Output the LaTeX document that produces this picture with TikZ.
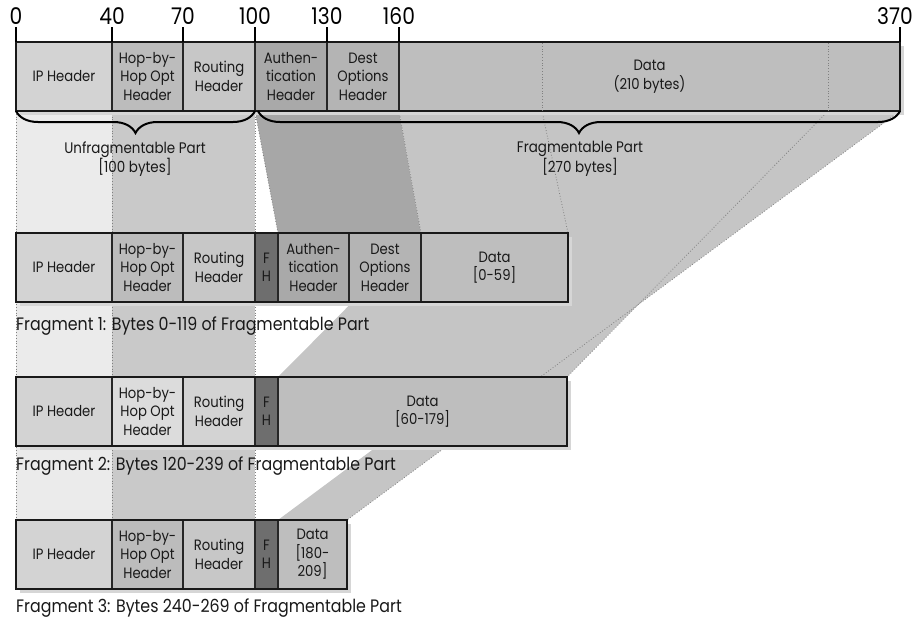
\documentclass[tikz,border=0pt]{standalone}
\usepackage{fontspec}
\setmainfont{Poppins}[FakeStretch=0.88]
\usetikzlibrary{positioning,backgrounds,decorations.pathreplacing}
\definecolor{ipgrey}{HTML}{D3D3D3}
\definecolor{hopgrey}{HTML}{BCBCBC}
\definecolor{rtgrey}{HTML}{C7C7C7}
\definecolor{authgrey}{HTML}{A9A9A9}
\definecolor{destgrey}{HTML}{B4B4B4}
\definecolor{datagrey}{HTML}{BEBEBE}
\definecolor{fhgrey}{HTML}{6E6E6E}
\definecolor{bandlight}{HTML}{EBEBEB}
\definecolor{bandmid}{HTML}{C9C9C9}
\definecolor{banddark}{HTML}{A7A7A7}
\definecolor{banddata}{HTML}{C5C5C5}
\definecolor{shadowgrey}{HTML}{D6D6D6}
\tikzset{
  cell/.style={rectangle, draw=black!85, line width=1.2pt, outer sep=0pt, inner sep=1pt,
    minimum height=69pt, align=center, text=black!90, font=\fontsize{15}{18.5}\selectfont},
  frame/.style={draw=black!90, line width=2.2pt},
  ruler/.style={anchor=south, inner sep=2pt, font=\fontsize{23}{24}\selectfont},
  tick/.style={draw=black, line width=1.4pt},
  caption/.style={anchor=west, inner sep=0pt, text=black!90, font=\fontsize{18}{20}\selectfont},
  partlabel/.style={align=center, text=black!90, font=\fontsize{15.3}{18}\selectfont},
  brace/.style={decorate, decoration={brace, amplitude=22pt, mirror}, line width=2pt},
  edge/.style={draw=black!50, dotted, line width=0.8pt},
  shade/.style={fill=shadowgrey},
}

\begin{document}
\begin{tikzpicture}[x=1pt, y=-1pt]
  \useasboundingbox (0,0) rectangle (915,621);

  % original packet
  \node[cell, fill=ipgrey, minimum width=96pt, anchor=north west] (ip0) at (16,42) {IP Header};
  \node[cell, fill=hopgrey, minimum width=71pt, right=0pt of ip0] (hop0) {Hop-by-\\Hop Opt\\Header};
  \node[cell, fill=rtgrey, minimum width=72pt, right=0pt of hop0] (rt0) {Routing\\Header};
  \node[cell, fill=authgrey, minimum width=72pt, right=0pt of rt0] (auth0) {Authen-\\tication\\Header};
  \node[cell, fill=destgrey, minimum width=72pt, right=0pt of auth0] (dest0) {Dest\\Options\\Header};
  \node[cell, fill=datagrey, minimum width=501pt, right=0pt of dest0] (data0) {Data\\(210 bytes)};
  \draw[frame] (ip0.north west) rectangle (data0.south east);
  \coordinate (cut1) at (542,111);
  \coordinate (cut2) at (828,111);
  \draw[edge] (cut1) -- (cut1 |- data0.north);
  \draw[edge] (cut2) -- (cut2 |- data0.north);

  % byte offsets
  \node[ruler] (r0) at (16,27) {0};
  \node[ruler] (r40) at (112,27) {40};
  \node[ruler] (r70) at (183,27) {70};
  \node[ruler] (r100) at (255,27) {100};
  \node[ruler] (r130) at (327,27) {130};
  \node[ruler] (r160) at (399,27) {160};
  \node[ruler] (r370) at (895,27) {370};
  \draw[tick] (r0.south) -- (ip0.north west);
  \draw[tick] (r40.south) -- (hop0.north west);
  \draw[tick] (r70.south) -- (rt0.north west);
  \draw[tick] (r100.south) -- (auth0.north west);
  \draw[tick] (r130.south) -- (dest0.north west);
  \draw[tick] (r160.south) -- (data0.north west);
  \draw[tick] (r370.south -| data0.north east) -- (data0.north east);

  % braces
  \draw[brace] (ip0.south west) -- (rt0.south east);
  \draw[brace] ([xshift=3pt]auth0.south west) -- (data0.south east);
  \node[partlabel] (unfrag) at (135,159) {Unfragmentable Part\\{[}100 bytes{]}};
  \node[partlabel] (frag) at (580,159) {Fragmentable Part\\{[}270 bytes{]}};

  % fragment 1
  \node[cell, fill=ipgrey, minimum width=96pt, anchor=north west] (ip1) at (16,233) {IP Header};
  \node[cell, fill=hopgrey, minimum width=71pt, right=0pt of ip1] (hop1) {Hop-by-\\Hop Opt\\Header};
  \node[cell, fill=rtgrey, minimum width=72pt, right=0pt of hop1] (rt1) {Routing\\Header};
  \node[cell, fill=fhgrey, minimum width=23pt, right=0pt of rt1] (fh1) {F\\H};
  \node[cell, fill=authgrey, minimum width=71pt, right=0pt of fh1] (auth1) {Authen-\\tication\\Header};
  \node[cell, fill=destgrey, minimum width=72pt, right=0pt of auth1] (dest1) {Dest\\Options\\Header};
  \node[cell, fill=datagrey, minimum width=147pt, right=0pt of dest1] (data1) {Data\\{[}0-59{]}};
  \draw[frame] (ip1.north west) rectangle (data1.south east);
  \node[caption] (cap1) at (16,326) {Fragment 1: Bytes 0-119 of Fragmentable Part};

  % fragment 2
  \node[cell, fill=ipgrey, minimum width=96pt, anchor=north west] (ip2) at (16,377) {IP Header};
  \node[cell, fill=ipgrey!80!white, minimum width=71pt, right=0pt of ip2] (hop2) {Hop-by-\\Hop Opt\\Header};
  \node[cell, fill=ipgrey, minimum width=72pt, right=0pt of hop2] (rt2) {Routing\\Header};
  \node[cell, fill=fhgrey, minimum width=23pt, right=0pt of rt2] (fh2) {F\\H};
  \node[cell, fill=datagrey, minimum width=289pt, right=0pt of fh2] (data2) {Data\\{[}60-179{]}};
  \draw[frame] (ip2.north west) rectangle (data2.south east);
  \node[caption] (cap2) at (16,466) {Fragment 2: Bytes 120-239 of Fragmentable Part};

  % fragment 3
  \node[cell, fill=ipgrey, minimum width=96pt, anchor=north west] (ip3) at (16,520) {IP Header};
  \node[cell, fill=hopgrey, minimum width=71pt, right=0pt of ip3] (hop3) {Hop-by-\\Hop Opt\\Header};
  \node[cell, fill=rtgrey, minimum width=72pt, right=0pt of hop3] (rt3) {Routing\\Header};
  \node[cell, fill=fhgrey, minimum width=23pt, right=0pt of rt3] (fh3) {F\\H};
  \node[cell, fill=datagrey, minimum width=69pt, right=0pt of fh3] (data3) {Data\\{[}180-\\209{]}};
  \draw[frame] (ip3.north west) rectangle (data3.south east);
  \node[caption] (cap3) at (16,608) {Fragment 3: Bytes 240-269 of Fragmentable Part};

  % where the bytes go
  \begin{scope}[on background layer]
    \fill[bandlight] (ip0.south west) -- (ip0.south east) -- (ip3.north east) -- (ip3.north west) -- cycle;
    \fill[bandmid] (hop0.south west) -- (rt0.south east) -- (rt3.north east) -- (hop3.north west) -- cycle;
    \fill[banddark] (auth0.south west) -- (dest0.south east) -- (dest1.north east) -- (auth1.north west) -- cycle;
    \fill[banddata] (dest0.south east) -- (cut1) -- (data1.north east) -- (data1.north west) -- cycle;
    \fill[banddata] (cut1) -- (cut2) -- (data2.north east) -- (data2.north west) -- cycle;
    \fill[banddata] (cut2) -- (data0.south east) -- (data3.north east) -- (data3.north west) -- cycle;
    \draw[edge] (ip0.south west) -- (ip3.north west);
    \draw[edge] (hop0.south west) -- (hop3.north west);
    \draw[edge] (rt0.south east) -- (rt3.north east);
    \draw[edge] (auth0.south west) -- (auth1.north west);
    \draw[edge] (dest0.south east) -- (dest1.north east);
    \draw[edge] (cut1) -- (data1.north east);
    \draw[edge] (cut2) -- (data2.north east);
    \draw[edge] (data0.south east) -- (data3.north east);
    \fill[shade] ([shift={(4,4)}]ip0.north west) rectangle ([shift={(4,4)}]data0.south east);
    \fill[shade] ([shift={(4,4)}]ip1.north west) rectangle ([shift={(4,4)}]data1.south east);
    \fill[shade] ([shift={(4,4)}]ip2.north west) rectangle ([shift={(4,4)}]data2.south east);
    \fill[shade] ([shift={(4,4)}]ip3.north west) rectangle ([shift={(4,4)}]data3.south east);
  \end{scope}
\end{tikzpicture}
\end{document}
